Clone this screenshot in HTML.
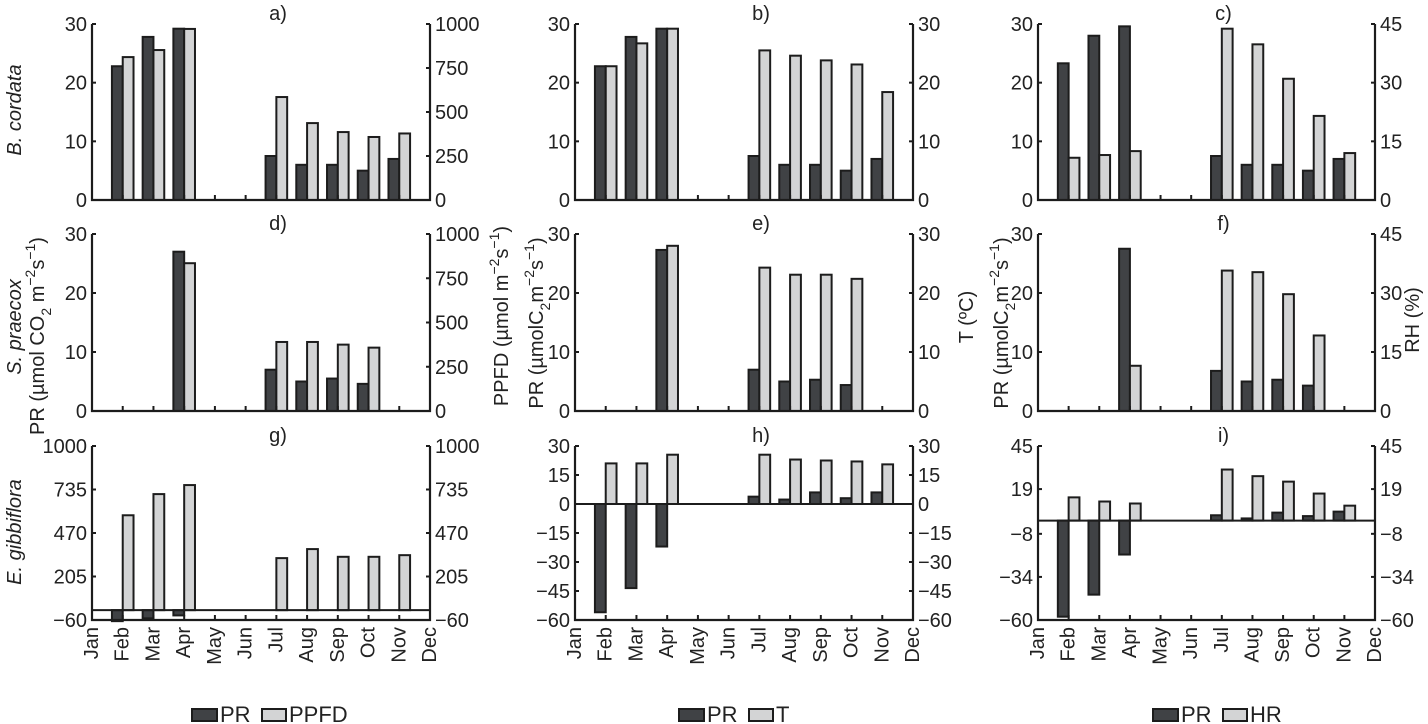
<!DOCTYPE html>
<html><head><meta charset="utf-8"><style>
html,body{margin:0;padding:0;background:#fff;}
svg{display:block;font-family:"Liberation Sans",Arial,sans-serif;}
</style></head><body>
<svg id="chart" width="1428" height="724" viewBox="0 0 1428 724" xmlns="http://www.w3.org/2000/svg"></svg>
<script>
const months = ['Jan','Feb','Mar','Apr','May','Jun','Jul','Aug','Sep','Oct','Nov','Dec'];
// values per month (null = no data)
const prA   = [null,22.8,27.8,29.2,null,null,7.5,6,6,5,7,null];
const ppfdA = [null,812,852,972,null,null,585,437,386,358,378,null];
const prB   = [null,22.8,27.8,29.2,null,null,7.5,6,6,5,7,null];
const tB    = [null,22.8,26.7,29.2,null,null,25.5,24.6,23.8,23.1,18.4,null];
const prC   = [null,23.3,28,29.6,null,null,7.5,6,6,5,7,null];
const hrC   = [null,10.8,11.5,12.5,null,null,43.8,39.8,31,21.5,12,null];
const prD   = [null,null,null,27,null,null,7,5,5.5,4.6,null,null];
const ppfdD = [null,null,null,835,null,null,390,390,375,358,null,null];
const prE   = [null,null,null,27.3,null,null,7,5,5.3,4.4,null,null];
const tE    = [null,null,null,28,null,null,24.3,23.1,23.1,22.4,null,null];
const prF   = [null,null,null,27.5,null,null,6.8,5,5.3,4.3,null,null];
const rhF   = [null,null,null,11.5,null,null,35.7,35.3,29.7,19.2,null,null];
const prG   = [null,-67,-50,-32,null,null,null,null,null,null,null,null];
const ppfdG = [null,578,707,762,null,null,317,372,325,325,335,null];
const prH   = [null,-56,-43.5,-22,null,null,3.8,2.3,6,3,6,null];
const tH    = [null,21,21,25.5,null,null,25.5,23,22.5,22,20.5,null];
const prI   = [null,-58,-44.7,-20.5,null,null,3.2,1.3,4.8,2.7,5.4,null];
const hrI   = [null,14,11.5,10.3,null,null,30.8,26.8,23.5,16.3,9,null];
const ticks30 = [0,10,20,30];
const ticks1000 = [0,250,500,750,1000];
const ticks45 = [0,15,30,45];
const ticksG = [-60,205,470,735,1000];
const ticksH = [-60,-45,-30,-15,0,15,30];
const ticksI = [-60,-34,-8,19,45];

const NS='http://www.w3.org/2000/svg';
const svg=document.getElementById('chart');
function mk(tag,attrs,parent){const e=document.createElementNS(NS,tag);for(const k in attrs)e.setAttribute(k,attrs[k]);(parent||svg).appendChild(e);return e;}
function txt(s,attrs,parent){const e=mk('text',attrs,parent);e.textContent=s;return e;}

const cols=[[92,430],[575,913],[1038,1375]];
const rows=[[24,200],[234,411],[446,620]];
const panels=[
 {id:'a',c:0,r:0,dark:prA,light:ppfdA,lmin:0,lmax:30,lt:ticks30,rmin:0,rmax:1000,rt:ticks1000},
 {id:'b',c:1,r:0,dark:prB,light:tB,lmin:0,lmax:30,lt:ticks30,rmin:0,rmax:30,rt:ticks30},
 {id:'c',c:2,r:0,dark:prC,light:hrC,lmin:0,lmax:30,lt:ticks30,rmin:0,rmax:45,rt:ticks45},
 {id:'d',c:0,r:1,dark:prD,light:ppfdD,lmin:0,lmax:30,lt:ticks30,rmin:0,rmax:1000,rt:ticks1000},
 {id:'e',c:1,r:1,dark:prE,light:tE,lmin:0,lmax:30,lt:ticks30,rmin:0,rmax:30,rt:ticks30},
 {id:'f',c:2,r:1,dark:prF,light:rhF,lmin:0,lmax:30,lt:ticks30,rmin:0,rmax:45,rt:ticks45},
 {id:'g',c:0,r:2,dark:prG,light:ppfdG,lmin:-60,lmax:1000,lt:ticksG,rmin:-60,rmax:1000,rt:ticksG},
 {id:'h',c:1,r:2,dark:prH,light:tH,lmin:-60,lmax:30,lt:ticksH,rmin:-60,rmax:30,rt:ticksH},
 {id:'i',c:2,r:2,dark:prI,light:hrI,lmin:-60,lmax:45,lt:ticksI,rmin:-60,rmax:45,rt:ticksI},
];
const DARK='#404245',LIGHT='#d3d4d5',INK='#1c1c1c';
panels.forEach(p=>{
 const [x0,x1]=cols[p.c],[y0,y1]=rows[p.r];
 const g=mk('g',{});
 
 
 const xs=i=>x0+i*(x1-x0)/11;
 const yl=v=>y1-(v-p.lmin)/(p.lmax-p.lmin)*(y1-y0);
 const yr=v=>y1-(v-p.rmin)/(p.rmax-p.rmin)*(y1-y0);
 const bw=10.8;
 months.forEach((m,i)=>{
  const d=p.dark[i];
  if(d!==null){const a=yl(0),b=yl(d);
   const r=mk('rect',{x:xs(i)-bw,y:Math.min(a,b),width:bw,height:Math.abs(a-b),fill:DARK,stroke:INK,'stroke-width':2},g);
   
   }
  const l=p.light[i];
  if(l!==null){const a=yr(0),b=yr(l);
   const r=mk('rect',{x:xs(i),y:Math.min(a,b),width:bw,height:Math.abs(a-b),fill:LIGHT,stroke:INK,'stroke-width':2},g);
   
   }
 });
 // axes
 const ax=mk('path',{d:`M${x0},${y0} V${y1} H${x1} V${y0}`,fill:'none',stroke:INK,'stroke-width':2.2},g);
 
 
 if(p.lmin<0){const z=mk('line',{x1:x0,x2:x1,y1:yl(0),y2:yl(0),stroke:INK,'stroke-width':2},g);
  
  }
 months.forEach((m,i)=>{ if(i>0&&i<11) mk('line',{x1:xs(i),x2:xs(i),y1:y1,y2:y1-5,stroke:INK,'stroke-width':2},g);});
 p.lt.forEach(v=>{mk('line',{x1:x0,x2:x0+4,y1:yl(v),y2:yl(v),stroke:INK,'stroke-width':2},g);
  const t=txt(String(v).replace('-','\u2212'),{x:x0-5,y:yl(v)+7,'text-anchor':'end','font-size':20,fill:'#222'},g);
  
  });
 p.rt.forEach(v=>{mk('line',{x1:x1,x2:x1-4,y1:yr(v),y2:yr(v),stroke:INK,'stroke-width':2},g);
  const t=txt(String(v).replace('-','\u2212'),{x:x1+5,y:yr(v)+7,'text-anchor':'start','font-size':20,fill:'#222'},g);
  
  });
 const tt=txt(p.id+')',{x:(x0+x1)/2+17,y:y0-4,'text-anchor':'middle','font-size':20,fill:'#222'},g);
 
 
 if(p.r===2){months.forEach((m,i)=>{
  const t=txt(m,{x:0,y:0,'text-anchor':'end','dominant-baseline':'central','font-size':20,fill:'#222',transform:`translate(${xs(i)},627) rotate(-90)`},g);
  
  });}
});
function vlabel(s,x,y,name,italic){const t=mk('text',{x:0,y:0,'text-anchor':'middle','dominant-baseline':'central','font-size':20,fill:'#222','font-style':italic?'italic':'normal',transform:`translate(${x},${y}) rotate(-90)`});
 t.innerHTML=s;
 
 }
vlabel('B. cordata',15,110,'species-label-b-cordata',true);
vlabel('S. praecox',15,327,'species-label-s-praecox',true);
vlabel('E. gibbiflora',15,532,'species-label-e-gibbiflora',true);
vlabel('PR (µmol CO<tspan baseline-shift="sub" font-size="14">2</tspan> m<tspan baseline-shift="super" font-size="14">−2</tspan>s<tspan baseline-shift="super" font-size="14">−1</tspan>)',38,336,'y-axis-title-pr-1');
vlabel('PPFD (µmol m<tspan baseline-shift="super" font-size="14">−2</tspan>s<tspan baseline-shift="super" font-size="14">−1</tspan>)',502,316,'y-axis-title-ppfd');
vlabel('PR (µmolC<tspan baseline-shift="sub" font-size="14">2</tspan>m<tspan baseline-shift="super" font-size="14">−2</tspan>s<tspan baseline-shift="super" font-size="14">−1</tspan>)',537,323,'y-axis-title-pr-2');
vlabel('T (ºC)',967,317,'y-axis-title-t');
vlabel('PR (µmolC<tspan baseline-shift="sub" font-size="14">2</tspan>m<tspan baseline-shift="super" font-size="14">−2</tspan>s<tspan baseline-shift="super" font-size="14">−1</tspan>)',1002,323,'y-axis-title-pr-3');
vlabel('RH (%)',1413,320,'y-axis-title-rh');
function legend(x,lab2,name){const g=mk('g',{});
 
 
 mk('rect',{x:x,y:709,width:25,height:12,fill:DARK,stroke:INK,'stroke-width':2},g);
 txt('PR',{x:x+28,y:722,'font-size':22,fill:'#222'},g);
 mk('rect',{x:x+70,y:709,width:24,height:12,fill:LIGHT,stroke:INK,'stroke-width':2},g);
 txt(lab2,{x:x+97,y:722,'font-size':22,fill:'#222'},g);}
legend(192,'PPFD','legend-ppfd');
legend(679,'T','legend-t');
legend(1153,'HR','legend-hr');
</script>
</body></html>
